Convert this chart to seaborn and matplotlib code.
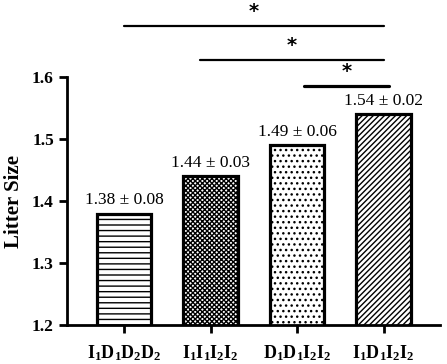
import pandas as pd
import seaborn as sns
import matplotlib.pyplot as plt

# data
groups = ['I1D1D2D2', 'I1I1I2I2', 'D1D1I2I2', 'I1D1I2I2']
group_labels = [r'$\mathbf{I_1D_1D_2D_2}$', r'$\mathbf{I_1I_1I_2I_2}$',
                r'$\mathbf{D_1D_1I_2I_2}$', r'$\mathbf{I_1D_1I_2I_2}$']
means = [1.38, 1.44, 1.49, 1.54]
sems = [0.08, 0.03, 0.06, 0.02]
hatches = ['---', 'xxxxxxx', '...', '//////']
# significance brackets: (x start, x end, height, line width)
sig_lines = [(0.0, 3.0, 1.682, 1.6), (0.88, 3.0, 1.627, 1.6), (2.08, 3.06, 1.585, 2.3)]

df = pd.DataFrame({'group': groups, 'mean': means})

sns.set_style('ticks', {'axes.edgecolor': 'black', 'text.color': 'black',
                        'axes.labelcolor': 'black', 'xtick.color': 'black',
                        'ytick.color': 'black'})
plt.rcParams['font.family'] = ['Liberation Serif', 'DejaVu Serif']
plt.rcParams['mathtext.fontset'] = 'custom'
plt.rcParams['mathtext.rm'] = 'Liberation Serif'
plt.rcParams['mathtext.bf'] = 'Liberation Serif:bold'
plt.rcParams['hatch.linewidth'] = 1.0

fig = plt.figure(figsize=(4.47, 3.64), dpi=100)
ax = fig.add_axes([0.150, 0.107, 0.834, 0.681])

# bars
sns.barplot(x='group', y='mean', data=df, color='white', width=0.63,
            edgecolor='black', linewidth=2.3, ax=ax)
for bar, h in zip(ax.patches, hatches):
    bar.set_hatch(h)

# axes
ax.set_ylim(1.2, 1.6)
ax.set_xlim(-0.66, 3.65)
ax.set_yticks([1.2, 1.3, 1.4, 1.5, 1.6])
ax.set_xticks(range(len(groups)))
ax.set_xticklabels(group_labels, fontsize=13)
for t in ax.get_yticklabels():
    t.set_fontweight('bold')
    t.set_fontsize(12.5)
ax.set_xlabel('')
ax.set_ylabel('Litter Size', fontsize=15, fontweight='bold', labelpad=6)

sns.despine(ax=ax)
for s in ['left', 'bottom']:
    ax.spines[s].set_linewidth(2)
ax.tick_params(axis='both', width=2, length=6, color='black')
ax.tick_params(axis='x', pad=7)

# value labels
for i, (m, e) in enumerate(zip(means, sems)):
    ax.annotate(f'{m:.2f} ± {e:.2f}', xy=(i, m), xytext=(0, 7),
                textcoords='offset points', ha='center', va='baseline', fontsize=12.5)

# significance lines and stars
for a, b, y, lw in sig_lines:
    ax.plot([a, b], [y, y], color='black', lw=lw, clip_on=False)
    ax.annotate('*', xy=((a + b) / 2, y), xytext=(0, 7), textcoords='offset points',
                ha='center', va='baseline', fontsize=14, fontweight='bold',
                family='DejaVu Sans', annotation_clip=False)

plt.savefig('out.png', dpi=100)
